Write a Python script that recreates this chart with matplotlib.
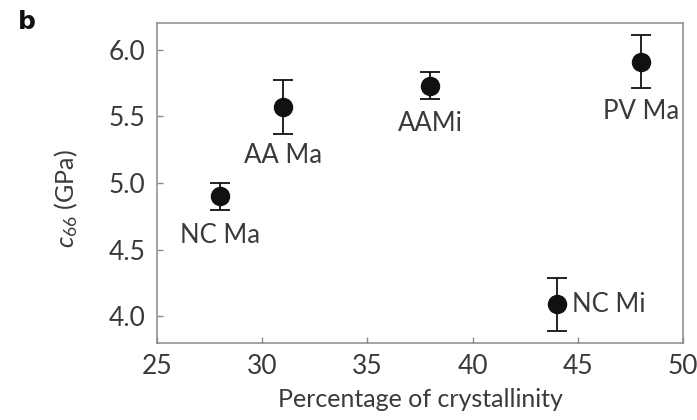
import matplotlib
matplotlib.use("Agg")
import matplotlib.pyplot as plt

# c66 shear modulus against crystallinity for each sample
labels = ["NC Ma", "AA Ma", "AAMi", "NC Mi", "PV Ma"]
crystallinity = [28, 31, 38, 44, 48]
c66 = [4.90, 5.57, 5.73, 4.09, 5.91]
c66_err = [0.10, 0.20, 0.10, 0.20, 0.20]

# label placement (offset points, alignment) for each sample
label_offsets = [(0, -28), (0, -35), (0, -27), (11, 0), (0, -36)]
label_align = [("center", "center"), ("center", "center"), ("center", "center"),
               ("left", "center"), ("center", "center")]

TEXT = "#3a3a3a"
SPINE = "#8a8a8a"

plt.rcParams["font.family"] = ["Lato", "DejaVu Sans"]
plt.rcParams["mathtext.fontset"] = "custom"
plt.rcParams["mathtext.rm"] = "Lato"
plt.rcParams["mathtext.it"] = "Lato:italic"

fig = plt.figure(figsize=(6.97, 4.2), dpi=100)
ax = fig.add_axes([0.225, 0.183, 0.755, 0.762])

ax.errorbar(crystallinity, c66, yerr=c66_err, fmt="o", color="#111111",
            markersize=13, elinewidth=1.3, capsize=7.2, capthick=1.3)

for x, y, name, off, (ha, va) in zip(crystallinity, c66, labels, label_offsets, label_align):
    ax.annotate(name, (x, y), xytext=off, textcoords="offset points",
                ha=ha, va=va, fontsize=18.5, color=TEXT)

ax.set_xlim(25, 50)
ax.set_ylim(3.8, 6.2)
ax.set_xticks([25, 30, 35, 40, 45, 50])
ax.set_yticks([4.0, 4.5, 5.0, 5.5, 6.0])
ax.set_yticklabels(["4.0", "4.5", "5.0", "5.5", "6.0"])

for side in ["top", "right", "bottom", "left"]:
    ax.spines[side].set_color(SPINE)
    ax.spines[side].set_linewidth(1.1)

ax.tick_params(direction="in", length=4, width=1, color=SPINE,
               labelsize=19, labelcolor=TEXT, pad=8, top=False, right=False)

ax.set_xlabel("Percentage of crystallinity", fontsize=18, color=TEXT, labelpad=6)
ax.set_ylabel(r"$c_{66}$ (GPa)", fontsize=18, color=TEXT)
ax.yaxis.label.set_va("center")
ax.yaxis.set_label_coords(-0.173, 0.45)

fig.text(0.039, 0.947, "b", fontsize=18, fontweight="bold", color="#111111",
         ha="center", va="center", family="DejaVu Sans")

fig.savefig("out.png", dpi=100)
